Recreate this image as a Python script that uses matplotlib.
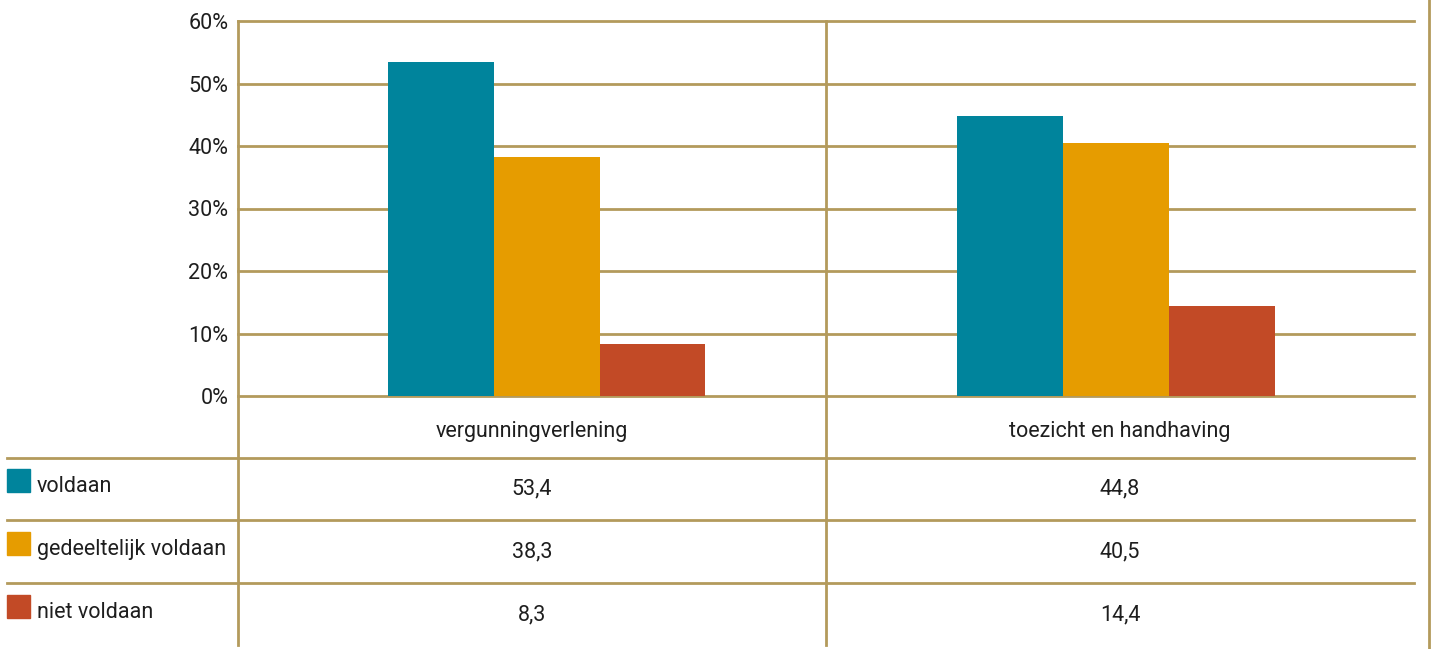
import numpy as np
import matplotlib.pyplot as plt
from matplotlib.patches import Rectangle

# gegevens (percentages)
categorieen = ['vergunningverlening', 'toezicht en handhaving']
reeksen = ['voldaan', 'gedeeltelijk voldaan', 'niet voldaan']
voldaan = [53.4, 44.8]
gedeeltelijk = [38.3, 40.5]
niet_voldaan = [8.3, 14.4]
yticks = [0, 10, 20, 30, 40, 50, 60]

kleuren = ['#00849c', '#e69c00', '#c24a26']
goud = '#b39a5c'
tekst = '#1e1e1e'
plt.rcParams['font.family'] = ['Roboto', 'DejaVu Sans']
fs = 15.5
lw = 2.0

W, H = 1432, 649
fig = plt.figure(figsize=(W / 100, H / 100), dpi=100)

# grafiek-as
L, R, T, B = 238, 1414, 21, 396
ax = fig.add_axes([L / W, 1 - B / H, (R - L) / W, (B - T) / H])
ax.set_xlim(0, 2)
ax.set_ylim(0, 60)
ax.patch.set_alpha(0)
for s in ax.spines.values():
    s.set_visible(False)
ax.set_xticks([])
ax.set_yticks(yticks)
ax.set_yticklabels([f'{v}%' for v in yticks])
ax.tick_params(axis='y', length=0, pad=7, labelsize=fs, labelcolor=tekst)
for v in yticks:
    ax.axhline(v, color=goud, lw=lw, zorder=1, clip_on=False)

centra = np.array([0.525, 1.493])
breedte = 0.18
waarden = [voldaan, gedeeltelijk, niet_voldaan]
for i, vals in enumerate(waarden):
    ax.bar(centra + (i - 1) * breedte, vals, width=breedte, color=kleuren[i],
           zorder=2, linewidth=0)

# overlay-as in pixels voor de tabel (onder de grafiek)
ov = fig.add_axes([0, 0, 1, 1], zorder=-1)
ov.set_xlim(0, W)
ov.set_ylim(H, 0)
ov.axis('off')

# lijnen van de tabel
ov.plot([L, L], [T, 645], color=goud, lw=lw)
ov.plot([826, 826], [T, 645], color=goud, lw=lw)
ov.plot([1429, 1429], [0, H], color=goud, lw=lw)
for y in [458, 520, 583]:
    ov.plot([7, R], [y, y], color=goud, lw=lw)

# categorielabels
kolom_x = [532, 1120]
for cx, c in zip(kolom_x, categorieen):
    ov.text(cx, 431, c, ha='center', va='center', fontsize=fs, color=tekst)

# tabelrijen met legenda
rij_y = [489, 552, 615]
for i, (naam, vals) in enumerate(zip(reeksen, waarden)):
    y = rij_y[i]
    ov.add_patch(Rectangle((7, y - 20), 23, 23, color=kleuren[i]))
    ov.text(37, y - 3, naam, ha='left', va='center', fontsize=fs, color=tekst)
    for cx, v in zip(kolom_x, vals):
        ov.text(cx, y, f'{v:.1f}'.replace('.', ','), ha='center', va='center',
                fontsize=fs, color=tekst)

fig.savefig('out.png', dpi=100)
